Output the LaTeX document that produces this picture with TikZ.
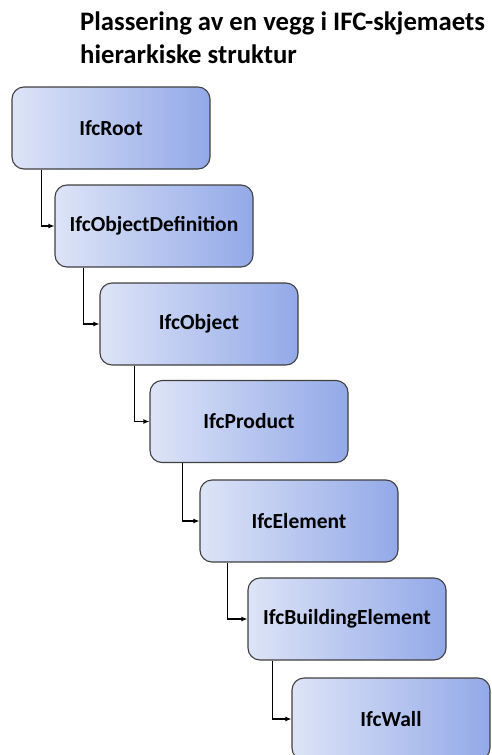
\documentclass[tikz,border=0pt]{standalone}
\usepackage{xcolor}
\usepackage{fontspec}
\setmainfont{Carlito}
\usepackage{tikz}
\usetikzlibrary{arrows.meta}

\definecolor{boxleft}{HTML}{DDE4F7}
\definecolor{boxright}{HTML}{93A9E8}
\definecolor{boxline}{HTML}{404040}

\begin{document}
\begin{tikzpicture}[x=1pt, y=-1pt]
			\useasboundingbox (0, 0) rectangle (491, 755);
			\clip (0, 0) rectangle (491, 755);
			
			\node[anchor=base west, align=left, inner sep=0pt, font=\bfseries\fontsize{26.7}{33}\selectfont] (title) at (80, 63)
				{Plassering av en vegg i IFC-skjemaets\\hierarkiske struktur};
			
			\begin{scope}[
				ifcbox/.style={draw=boxline, line width=1.1pt, rounded corners=12pt, left color=boxleft, right color=boxright, minimum width=198pt, minimum height=82pt, inner sep=0pt, font=\bfseries\fontsize{21.5}{24}\selectfont}]
				\node[ifcbox] (B1) at (111, 128) {IfcRoot};
				\node[ifcbox] (B2) at (154, 226) {IfcObjectDefinition};
				\node[ifcbox] (B3) at (199, 324) {IfcObject};
				\node[ifcbox] (B4) at (249, 421.5) {IfcProduct};
				\node[ifcbox] (B5) at (299, 521) {IfcElement};
				\node[ifcbox] (B6) at (347, 619) {IfcBuildingElement};
				\node[ifcbox] (B7) at (391, 719) {IfcWall};
			\end{scope}
		
			\draw[-{Latex[length=6pt, width=5pt]}, line width=1.8pt] ([xshift=30pt]B1.south west) |- (B2.west);
			\draw[-{Latex[length=6pt, width=5pt]}, line width=1.8pt] ([xshift=29pt]B2.south west) |- (B3.west);
			\draw[-{Latex[length=6pt, width=5pt]}, line width=1.8pt] ([xshift=35pt]B3.south west) |- (B4.west);
			\draw[-{Latex[length=6pt, width=5pt]}, line width=1.8pt] ([xshift=33pt]B4.south west) |- (B5.west);
			\draw[-{Latex[length=6pt, width=5pt]}, line width=1.8pt] ([xshift=28pt]B5.south west) |- (B6.west);
			\draw[-{Latex[length=6pt, width=5pt]}, line width=1.8pt] ([xshift=25pt]B6.south west) |- (B7.west);
		\end{tikzpicture}
\end{document}
